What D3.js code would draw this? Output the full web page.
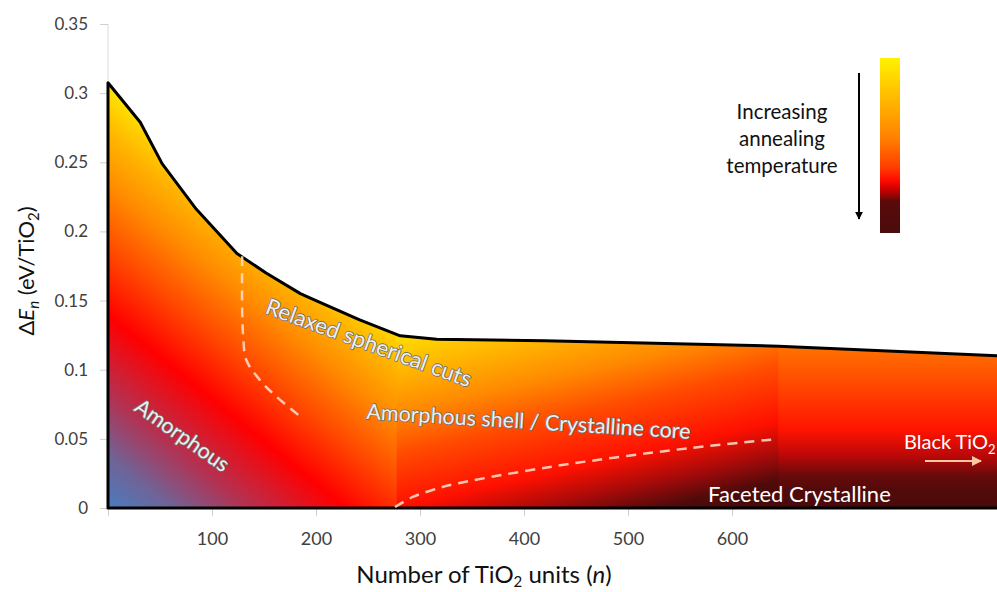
<!DOCTYPE html>
<html>
<head>
<meta charset="utf-8">
<script src="https://cdn.jsdelivr.net/npm/d3@7"></script>
<style>
  html, body { margin: 0; padding: 0; background: #fff; }
  svg { display: block; font-family: Lato, "Open Sans", sans-serif; }
</style>
</head>
<body>
<svg id="chart" width="997" height="592"></svg>
<script>
// ---- data ----
const clusterSize = [0, 31, 52, 85, 124, 152, 185, 200, 242, 281, 316, 420, 645, 858];
const energyPerUnit = [0.3075, 0.279, 0.249, 0.216, 0.184, 0.170, 0.155, 0.150, 0.136, 0.1245, 0.122, 0.121, 0.117, 0.110];

const boundary1N = [129, 129, 130, 133, 146, 162, 183];
const boundary1E = [0.182, 0.143, 0.124, 0.107, 0.0926, 0.0805, 0.0673];

const boundary2N = [276, 293, 312, 329, 425, 560, 640];
const boundary2E = [0.0007, 0.008, 0.013, 0.0166, 0.0297, 0.0434, 0.0496];

const xTicks = [0, 100, 200, 300, 400, 500, 600];
const xTickLabels = ["", "100", "200", "300", "400", "500", "600"];
const yTicks = [0, 0.05, 0.1, 0.15, 0.2, 0.25, 0.3, 0.35];
const yTickLabels = ["0", "0.05", "0.1", "0.15", "0.2", "0.25", "0.3", "0.35"];

const regionEdges = [0, 278, 645, 858];

// ---- scales ----
const svg = d3.select("#chart");
const x = d3.scaleLinear().domain([0, 600]).range([108, 732]);
const y = d3.scaleLinear().domain([0, 0.35]).range([508, 24]);

const defs = svg.append("defs");

function grad(id, x1, y1, x2, y2, stops) {
  const g = defs.append("linearGradient").attr("id", id)
    .attr("gradientUnits", "userSpaceOnUse")
    .attr("x1", x1).attr("y1", y1).attr("x2", x2).attr("y2", y2);
  stops.forEach(s => g.append("stop").attr("offset", s[0]).attr("stop-color", s[1]));
}

// region A: diagonal from bottom-left corner
const cx0 = x(0), cy0 = y(0);
grad("gA", cx0, cy0, cx0 + 0.63 * 345, cy0 - 0.777 * 345, [
  [0, "#4a7cc0"], [0.116, "#6e6498"], [0.26, "#b53050"], [0.435, "#ff0000"],
  [0.58, "#ff4800"], [0.725, "#ff8a00"], [0.84, "#ffb400"], [0.94, "#ffe000"], [1, "#fff200"]
]);
// region B: slightly tilted
grad("gB", 400, 329.3, 453.9, 567, [
  [0, "#ffe600"], [0.04, "#ffd800"], [0.33, "#ff8a00"], [0.5, "#ff4a00"],
  [0.71, "#ff1000"], [0.85, "#a00a0a"], [0.95, "#500a0a"], [1, "#4a0a0a"]
]);
// region C: vertical
grad("gC", 0, 345, 0, 508, [
  [0, "#ff7400"], [0.31, "#ff3c00"], [0.52, "#ff1400"], [0.67, "#c00808"],
  [0.8, "#6a0a0a"], [0.89, "#520a0a"], [1, "#4a0a0a"]
]);
// colorbar
grad("gBar", 0, 58, 0, 233, [
  [0, "#fff200"], [0.27, "#ffb000"], [0.46, "#ff8000"], [0.62, "#ff4000"],
  [0.7, "#ff0a00"], [0.76, "#c00000"], [0.82, "#5a0a0a"], [1, "#4a0c0c"]
]);

const pts = clusterSize.map((n, i) => [n, energyPerUnit[i]]);
const area = d3.area().x(d => x(d[0])).y0(y(0)).y1(d => y(d[1]));

defs.append("clipPath").attr("id", "clipArea")
  .append("path").attr("d", area(pts));

// ---- axes (light) ----
svg.append("line").attr("x1", x(0)).attr("x2", x(0)).attr("y1", y(0.35)).attr("y2", y(0))
  .attr("stroke", "#d9d9d9").attr("stroke-width", 1);

const yAxis = d3.axisLeft(y).tickValues(yTicks).tickSize(8).tickPadding(12)
  .tickFormat((d, i) => yTickLabels[i]);
const gy = svg.append("g").attr("transform", `translate(${x(0)},0)`).call(yAxis);
gy.select(".domain").remove();
gy.selectAll(".tick line").attr("stroke", "#d0d0d0");
gy.selectAll(".tick text").attr("fill", "#404040").style("font-size", "17px").style("font-family", "Lato, sans-serif");

const xAxis = d3.axisBottom(x).tickValues(xTicks).tickSize(8).tickPadding(16)
  .tickFormat((d, i) => xTickLabels[i]);
const gx = svg.append("g").attr("transform", `translate(0,${y(0)})`).call(xAxis);
gx.select(".domain").remove();
gx.selectAll(".tick line").attr("stroke", "#d0d0d0");
gx.selectAll(".tick text").attr("fill", "#404040").style("font-size", "18px").style("font-family", "Lato, sans-serif");

// ---- filled regions ----
const fillG = svg.append("g").attr("clip-path", "url(#clipArea)");
["gA", "gB", "gC"].forEach((id, i) => {
  fillG.append("rect")
    .attr("x", x(regionEdges[i]) - (i ? 0.5 : 0))
    .attr("width", x(regionEdges[i + 1]) - x(regionEdges[i]) + 1)
    .attr("y", y(0.35)).attr("height", y(0) - y(0.35) + 2)
    .attr("fill", `url(#${id})`);
});

// outline
svg.append("path").attr("d", area(pts))
  .attr("fill", "none").attr("stroke", "#000").attr("stroke-width", 3).attr("stroke-linejoin", "round");

// dashed boundaries
const line = d3.line().x(d => x(d[0])).y(d => y(d[1])).curve(d3.curveCatmullRom);
svg.append("path").attr("d", line(boundary1N.map((n, i) => [n, boundary1E[i]])))
  .attr("fill", "none").attr("stroke", "#ffd9c4").attr("stroke-opacity", 0.9)
  .attr("stroke-width", 2.5).attr("stroke-dasharray", "10,7");
svg.append("path").attr("d", line(boundary2N.map((n, i) => [n, boundary2E[i]])))
  .attr("fill", "none").attr("stroke", "#ffd9c4").attr("stroke-opacity", 0.9)
  .attr("stroke-width", 2.5).attr("stroke-dasharray", "10,7");

// ---- region labels ----
function outlinedLabel(txt, px, py, rot, size) {
  svg.append("text")
    .attr("transform", `translate(${px},${py}) rotate(${rot})`)
    .attr("fill", "#eeeeee").attr("stroke", "#6e6e6e").attr("stroke-width", 1.6)
    .attr("paint-order", "stroke").attr("stroke-linejoin", "round")
    .style("font-size", size + "px").style("font-family", "Lato, sans-serif")
    .text(txt);
}
outlinedLabel("Relaxed spherical cuts", 264, 313, 20, 22.5);
outlinedLabel("Amorphous", 133, 410, 35, 21.5);
outlinedLabel("Amorphous shell / Crystalline core", 366, 419, 3.5, 21.5);

svg.append("text").attr("x", 708).attr("y", 502).attr("fill", "#ffffff")
  .style("font-size", "22px").style("font-family", "Lato, sans-serif").text("Faceted Crystalline");

const bt = svg.append("text").attr("x", 904).attr("y", 449).attr("fill", "#ffffff")
  .style("font-size", "20px").style("font-family", "Lato, sans-serif");
bt.append("tspan").text("Black TiO");
bt.append("tspan").attr("dy", 5).style("font-size", "13px").text("2");

defs.append("marker").attr("id", "peachHead").attr("viewBox", "0 0 10 10")
  .attr("refX", 9).attr("refY", 5).attr("markerWidth", 5).attr("markerHeight", 5)
  .attr("orient", "auto").append("path").attr("d", "M0,0 L10,5 L0,10 Z").attr("fill", "#ffc8a0");
svg.append("line").attr("x1", 925).attr("x2", 981).attr("y1", 461).attr("y2", 461)
  .attr("stroke", "#ffc8a0").attr("stroke-width", 2).attr("marker-end", "url(#peachHead)");

// ---- legend ----
svg.append("rect").attr("x", 880).attr("y", 58).attr("width", 20).attr("height", 175)
  .attr("fill", "url(#gBar)");
defs.append("marker").attr("id", "blackHead").attr("viewBox", "0 0 10 10")
  .attr("refX", 9).attr("refY", 5).attr("markerWidth", 4).attr("markerHeight", 4)
  .attr("orient", "auto").append("path").attr("d", "M0,0 L10,5 L0,10 Z").attr("fill", "#000");
svg.append("line").attr("x1", 859).attr("x2", 859).attr("y1", 73).attr("y2", 219)
  .attr("stroke", "#000").attr("stroke-width", 2).attr("marker-end", "url(#blackHead)");
["Increasing", "annealing", "temperature"].forEach((t, i) => {
  svg.append("text").attr("x", 782).attr("y", 119 + i * 27).attr("text-anchor", "middle")
    .attr("fill", "#111").style("font-size", "20.5px").style("font-family", "Lato, sans-serif").text(t);
});

// ---- axis titles ----
const xt = svg.append("text").attr("x", 484).attr("y", 583).attr("text-anchor", "middle")
  .attr("fill", "#111").style("font-size", "24px").style("font-family", "Lato, sans-serif");
xt.append("tspan").text("Number of TiO");
xt.append("tspan").attr("dy", 4).style("font-size", "15px").text("2");
xt.append("tspan").attr("dy", -4).text(" units (");
xt.append("tspan").style("font-style", "italic").text("n");
xt.append("tspan").text(")");

const yt = svg.append("text").attr("transform", "translate(34,271) rotate(-90)")
  .attr("text-anchor", "middle").attr("fill", "#111")
  .style("font-size", "22px").style("font-family", "Lato, sans-serif");
yt.append("tspan").text("Δ");
yt.append("tspan").style("font-style", "italic").text("E");
yt.append("tspan").attr("dy", 5).style("font-size", "15px").style("font-style", "italic").text("n");
yt.append("tspan").attr("dy", -5).text(" (eV/TiO");
yt.append("tspan").attr("dy", 5).style("font-size", "15px").text("2");
yt.append("tspan").attr("dy", -5).text(")");
</script>
</body>
</html>
